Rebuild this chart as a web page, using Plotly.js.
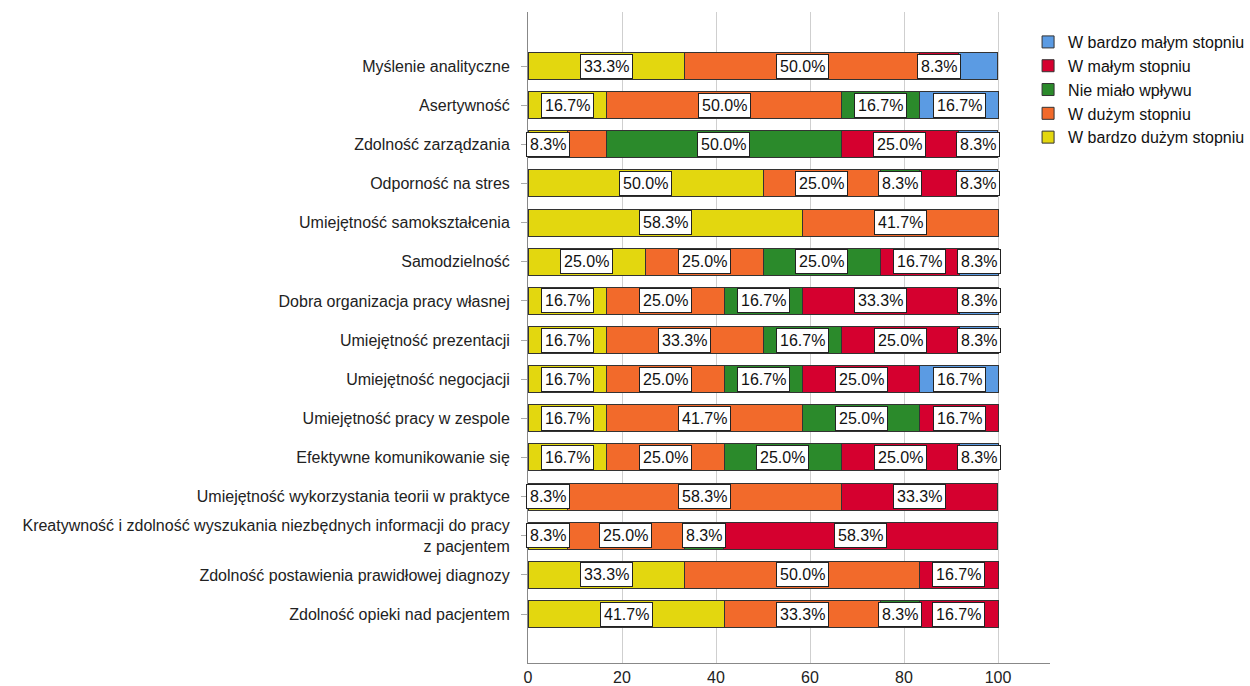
<!DOCTYPE html>
<html>
<head>
<meta charset="utf-8">
<script src="https://cdn.plot.ly/plotly-3.0.1.min.js"></script>
<style>html,body{margin:0;padding:0;background:#fff;}#chart{width:1250px;height:686px;}</style>
</head>
<body>
<div id="chart"></div>
<script>
const categories = [
  "Myślenie analityczne",
  "Asertywność",
  "Zdolność zarządzania",
  "Odporność na stres",
  "Umiejętność samokształcenia",
  "Samodzielność",
  "Dobra organizacja pracy własnej",
  "Umiejętność prezentacji",
  "Umiejętność negocjacji",
  "Umiejętność pracy w zespole",
  "Efektywne komunikowanie się",
  "Umiejętność wykorzystania teorii w praktyce",
  "Kreatywność i zdolność wyszukania niezbędnych informacji do pracy<br>z pacjentem",
  "Zdolność postawienia prawidłowej diagnozy",
  "Zdolność opieki nad pacjentem"
];
const seriesNames = ["W bardzo dużym stopniu", "W dużym stopniu", "Nie miało wpływu", "W małym stopniu", "W bardzo małym stopniu"];
const veryHigh = [33.3,16.7,8.3,50.0,58.3,25.0,16.7,16.7,16.7,16.7,16.7,8.3,8.3,33.3,41.7];
const high     = [50.0,50.0,8.3,25.0,41.7,25.0,25.0,33.3,25.0,41.7,25.0,58.3,25.0,50.0,33.3];
const noEffect = [0,16.7,50.0,8.3,0,25.0,16.7,16.7,16.7,25.0,25.0,0,8.3,0,8.3];
const low      = [8.3,0,25.0,8.3,0,16.7,33.3,25.0,25.0,16.7,25.0,33.3,58.3,16.7,16.7];
const veryLow  = [8.3,16.7,8.3,8.3,0,8.3,8.3,8.3,16.7,0,8.3,0,0,0,0];
const xTicks = [0,20,40,60,80,100];

const seriesVals = [veryHigh, high, noEffect, low, veryLow];
const colors = ["#e3d70f", "#f26a2b", "#2b8a2b", "#d5002f", "#5b9be3"];
const FONT = "Liberation Sans, Arial, sans-serif";

const traces = seriesVals.map((vals, i) => ({
  type: "bar",
  orientation: "h",
  name: seriesNames[i],
  y: categories,
  x: vals,
  marker: {color: colors[i], line: {color: "#333", width: 1}},
  hoverinfo: "x+y+name"
}));

// Labels: centered in each segment; hidden if overlapping the previous shown label
const pxPerUnit = 522 / 111.06;
const annotations = [];
categories.forEach((cat, r) => {
  let cum = 0;
  let lastRight = -Infinity;
  seriesVals.forEach((vals) => {
    const v = vals[r];
    if (v > 0) {
      const txt = v.toFixed(1) + "%";
      const center = cum + v / 2;
      const halfW = (txt.length * 8 + 10) / 2 / pxPerUnit;
      if (center - halfW >= lastRight - 0.05) {
        annotations.push({
          x: center, y: cat, xref: "x", yref: "y",
          text: txt, showarrow: false,
          font: {family: FONT, size: 16, color: "#111"},
          bgcolor: "#ffffff", bordercolor: "#222", borderwidth: 1, borderpad: 3
        });
        lastRight = center + halfW;
      }
    }
    cum += v;
  });
});

const layout = {
  width: 1250, height: 686,
  margin: {l: 528, r: 200, t: 12, b: 23, autoexpand: false},
  barmode: "stack",
  bargap: 0.31,
  paper_bgcolor: "#fff",
  plot_bgcolor: "#fff",
  font: {family: FONT, size: 16, color: "#222"},
  showlegend: true,
  legend: {
    x: 0.958, xanchor: "left", y: 0.98, yanchor: "top",
    traceorder: "reversed",
    font: {family: FONT, size: 16, color: "#111"},
    bgcolor: "rgba(0,0,0,0)",
    itemwidth: 30,
    tracegroupgap: 0
  },
  xaxis: {
    range: [0, 111.06],
    tickvals: xTicks,
    ticktext: xTicks.map(String),
    showgrid: true, gridcolor: "#cfcfcf", gridwidth: 1,
    zeroline: false,
    showline: true, linecolor: "#888", linewidth: 1,
    ticks: "",
    tickfont: {family: FONT, size: 16, color: "#222"},
    automargin: false,
    fixedrange: true
  },
  yaxis: {
    type: "category",
    categoryorder: "array", categoryarray: categories,
    range: [15.25, -1.38],
    showgrid: false, zeroline: false,
    showline: true, linecolor: "#888", linewidth: 1,
    ticks: "outside", ticklen: 6, tickcolor: "#aaa",
    ticklabelstandoff: 8,
    tickfont: {family: FONT, size: 16, color: "#222"},
    automargin: false,
    fixedrange: true
  },
  annotations: annotations
};

Plotly.newPlot("chart", traces, layout, {displayModeBar: false, staticPlot: true});
</script>
</body>
</html>
